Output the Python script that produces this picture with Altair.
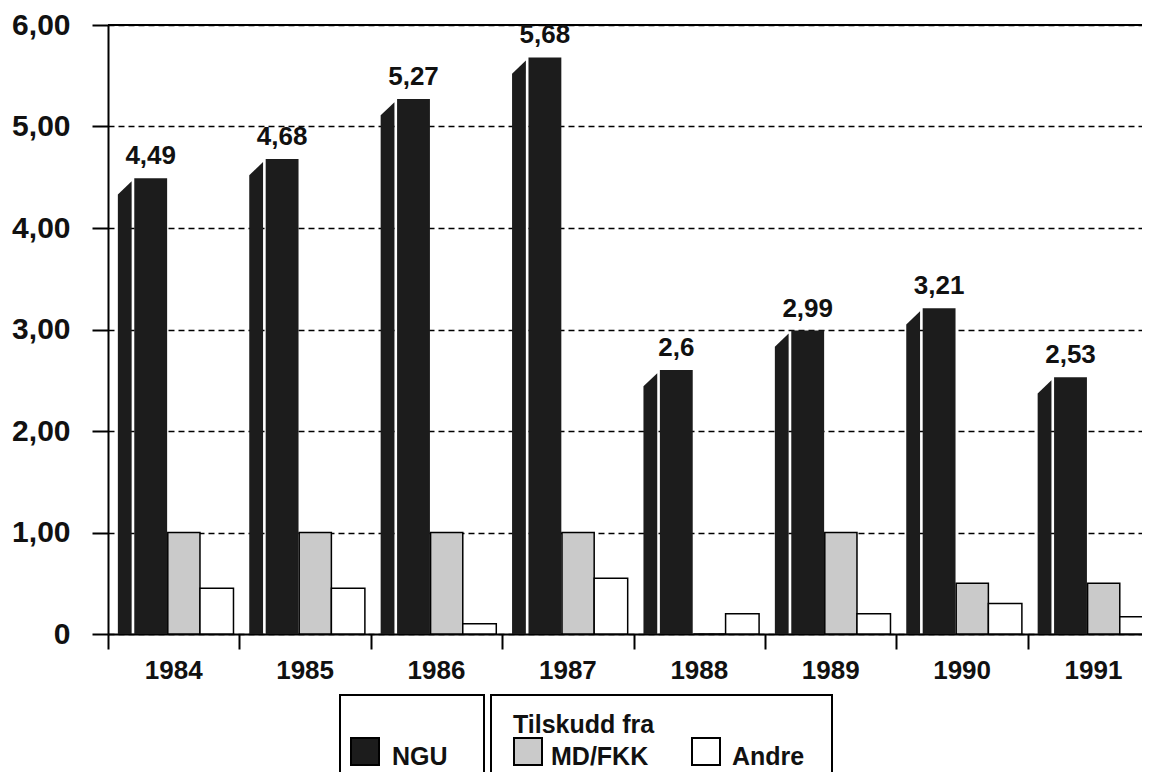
import altair as alt
import pandas as pd

years = ["1984", "1985", "1986", "1987", "1988", "1989", "1990", "1991"]
ngu = [4.49, 4.68, 5.27, 5.68, 2.6, 2.99, 3.21, 2.53]
md_fkk = [1.0, 1.0, 1.0, 1.0, 0.0, 1.0, 0.5, 0.5]
andre = [0.45, 0.45, 0.10, 0.55, 0.20, 0.20, 0.30, 0.17]
y_ticks = [0, 1, 2, 3, 4, 5, 6]
legend_labels = ["NGU", "MD/FKK", "Andre"]
legend_title = "Tilskudd fra"

FONT = "Liberation Sans"
W, H = 1034, 609
BAND = 131.4
XMAX = W / BAND
DARK = "#1c1c1c"
GRAY = "#cacaca"

idx = list(range(len(years)))
df = pd.DataFrame({"year": years, "i": idx, "ngu": ngu, "md": md_fkk, "andre": andre})
df["ngu_x"] = df.i + 0.20
df["ngu_x2"] = df.i + 0.45
df["md_x"] = df.i + 0.455
df["md_x2"] = df.i + 0.70
df["an_x"] = df.i + 0.70
df["an_x2"] = df.i + 0.955
df["center"] = df.i + 0.5
df["ngu_c"] = df.i + 0.325
df["label"] = [str(v).replace(".", ",") for v in ngu]
df["zero"] = 0.0

side_rows = []
for i, v in zip(idx, ngu):
    side_rows.append({"year": years[i], "sx": i + 0.075, "sy": v - 0.16})
    side_rows.append({"year": years[i], "sx": i + 0.18, "sy": v - 0.03})
side = pd.DataFrame(side_rows)

xscale = alt.Scale(domain=[0, XMAX], nice=False, zero=False)
xaxis = alt.Axis(values=list(range(len(years))), labels=False, tickSize=15, tickWidth=2,
                 domainWidth=2, domainColor="black", tickColor="black", grid=False, title=None)
yscale = alt.Scale(domain=[0, 6], nice=False)
yaxis = alt.Axis(values=y_ticks,
                 labelExpr="datum.value == 0 ? '0' : replace(format(datum.value, '.2f'), '.', ',')",
                 tickSize=16, tickWidth=2, labelPadding=22, labelFontSize=30, labelFont=FONT,
                 labelFontWeight="bold", labelColor="#111", domainWidth=2, domainColor="black",
                 tickColor="black", grid=True, gridDash=[6, 4], gridColor="black", gridWidth=1.5,
                 title=None)


def X(f):
    return alt.X(f"{f}:Q", scale=xscale, axis=xaxis)


def Y(f):
    return alt.Y(f"{f}:Q", scale=yscale, axis=yaxis, stack=None)


base = alt.Chart(df)

top_rule = alt.Chart(pd.DataFrame({"x0": [0.0], "x1": [XMAX], "y": [6.0]})).mark_rule(
    color="black", strokeWidth=2).encode(x=X("x0"), x2="x1", y=Y("y"))

side_face = alt.Chart(side).mark_area(color=DARK, clip=True).encode(
    x=X("sx"), y=Y("sy"), detail="year:N")

front = base.mark_rect(color=DARK, clip=True).encode(
    x=X("ngu_x"), x2="ngu_x2", y=Y("ngu"), y2="zero")

gray = base.mark_rect(fill=GRAY, stroke="black", strokeWidth=1.5, clip=True).encode(
    x=X("md_x"), x2="md_x2", y=Y("md"), y2="zero")

white = base.mark_rect(fill="white", stroke="black", strokeWidth=1.5, clip=True).encode(
    x=X("an_x"), x2="an_x2", y=Y("andre"), y2="zero")

values = base.mark_text(dy=-14, baseline="alphabetic", font=FONT, fontSize=26,
                        fontWeight="bold", color="#111").encode(
    x=X("ngu_c"), y=Y("ngu"), text="label:N")

year_labels = base.mark_text(baseline="middle", font=FONT, fontSize=26,
                             fontWeight="bold", color="#111").encode(
    x=X("center"), y=alt.value(H + 37), text="year:N")

one = pd.DataFrame({"a": [0]})


def box(x0, x1, y0, y1, fill, fo=1.0):
    return alt.Chart(one).mark_rect(fill=fill, fillOpacity=fo, stroke="black",
                                    strokeWidth=2).encode(
        x=alt.value(x0), x2=alt.value(x1), y=alt.value(y0), y2=alt.value(y1))


def label(txt, x, y):
    return alt.Chart(one).mark_text(align="left", baseline="alphabetic", font=FONT,
                                    fontSize=25, fontWeight="bold", color="#111").encode(
        x=alt.value(x), y=alt.value(y), text=alt.value(txt))


legend = [
    box(232, 376, 670, 820, "white", 0.0),
    box(383, 724, 670, 820, "white", 0.0),
    box(243, 271, 713, 740, DARK),
    label(legend_labels[0], 284, 740),
    label(legend_title, 405, 708),
    box(406, 434, 713, 740, GRAY),
    label(legend_labels[1], 443, 740),
    box(584, 612, 713, 740, "white"),
    label(legend_labels[2], 624, 740),
]

chart = alt.layer(top_rule, side_face, front, gray, white, values, year_labels, *legend).properties(
    width=W, height=H,
    autosize=alt.AutoSizeParams(type="none"),
    padding={"left": 100, "top": 17, "right": 0, "bottom": 138},
    background="white",
).configure_view(stroke=None)

chart.save("out.html", embed_options={"renderer": "svg", "actions": False})
